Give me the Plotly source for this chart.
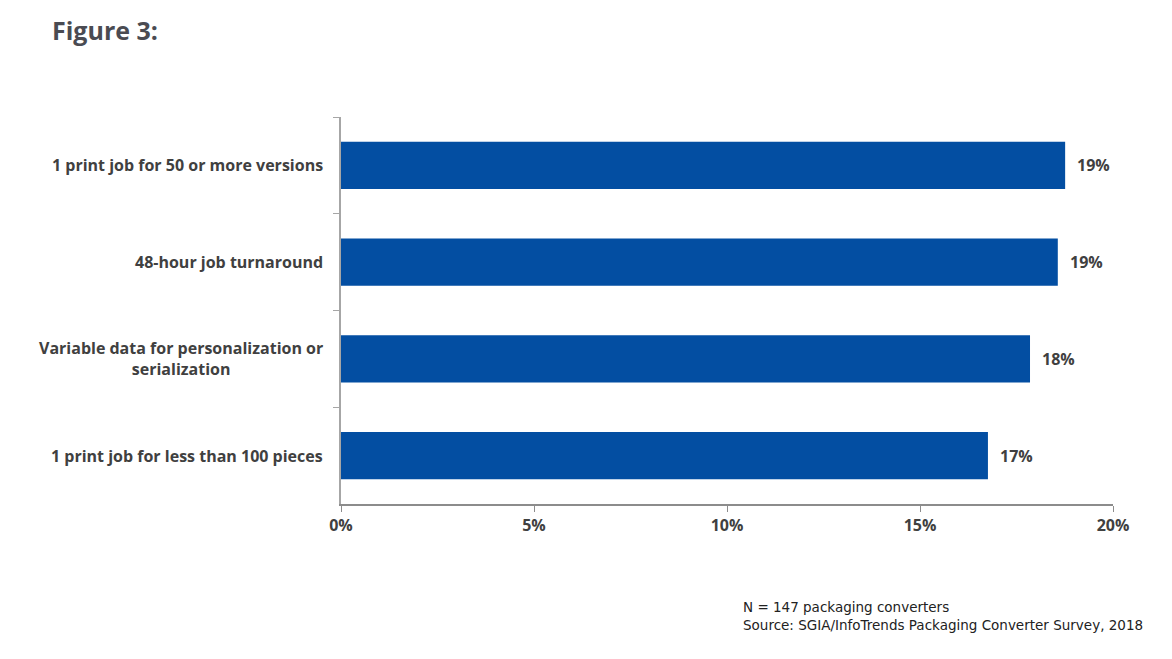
import plotly.graph_objects as go

categories = [
    "1 print job for 50 or more versions",
    "48-hour job turnaround",
    "Variable data for personalization or<br>serialization",
    "1 print job for less than 100 pieces",
]
values = [0.1876, 0.1857, 0.1785, 0.1676]
tick_vals = [0, 0.05, 0.10, 0.15, 0.20]
tick_text = ["0%", "5%", "10%", "15%", "20%"]

FONT = "Open Sans"
TXT = "#404040"
BAR = "#034EA2"
LBL = 16

# plot area in figure pixels (page body adds an 8px margin)
L, T, W, H = 333, 109, 772, 387

fig = go.Figure()
fig.add_trace(go.Bar(
    x=values, y=categories, orientation="h",
    marker=dict(color=BAR, line=dict(width=0)),
    hoverinfo="skip",
))

for c, v in zip(categories, values):
    fig.add_annotation(
        x=v, y=c, xref="x", yref="y", text=f"<b>{v:.0%}</b>",
        showarrow=False, xanchor="left", xshift=10,
        font=dict(family=FONT, size=LBL, color=TXT),
    )

# category labels (multi-line ones centred like the original)
for c in categories:
    fig.add_annotation(
        x=(317 - L) / W, y=c, xref="paper", yref="y",
        text=f"<b>{c}</b>", showarrow=False, xanchor="right", align="center",
        font=dict(family=FONT, size=LBL, color=TXT),
    )

fig.add_annotation(
    x=(42 - L) / W, y=1 + (T - 22) / H, xref="paper", yref="paper",
    text="<b>Figure 3:</b>",
    showarrow=False, xanchor="left", yanchor="middle",
    font=dict(family=FONT, size=25, color="#4a4b52"),
)

fig.add_annotation(
    x=(733 - L) / W, y=-(589 - (T + H)) / H, xref="paper", yref="paper",
    text="N = 147 packaging converters<br>Source: SGIA/InfoTrends Packaging Converter Survey, 2018",
    showarrow=False, xanchor="left", yanchor="top", align="left",
    font=dict(family="DejaVu Sans", size=13.5, color="#222222"),
)

fig.update_layout(
    width=1172, height=659,
    margin=dict(l=L, r=1172 - L - W, t=T, b=659 - T - H),
    paper_bgcolor="white", plot_bgcolor="white",
    bargap=0.51,
    showlegend=False,
    font=dict(family=FONT, color=TXT),
)

fig.update_xaxes(
    range=[0, 0.20], tickvals=tick_vals, ticktext=tick_text,
    showgrid=False, zeroline=False,
    showline=True, linecolor="#8c8c8c", linewidth=1.5,
    ticks="outside", ticklen=6, tickcolor="#8c8c8c",
    tickfont=dict(family=FONT, size=LBL, color=TXT, weight="bold"),
)
fig.update_yaxes(
    autorange="reversed", type="category",
    showgrid=False, zeroline=False,
    showline=True, linecolor="#a6a6a6", linewidth=1.5,
    ticks="outside", ticklen=6, tickcolor="#a6a6a6", tickson="boundaries",
    showticklabels=False,
)

fig.write_html("out.html")
